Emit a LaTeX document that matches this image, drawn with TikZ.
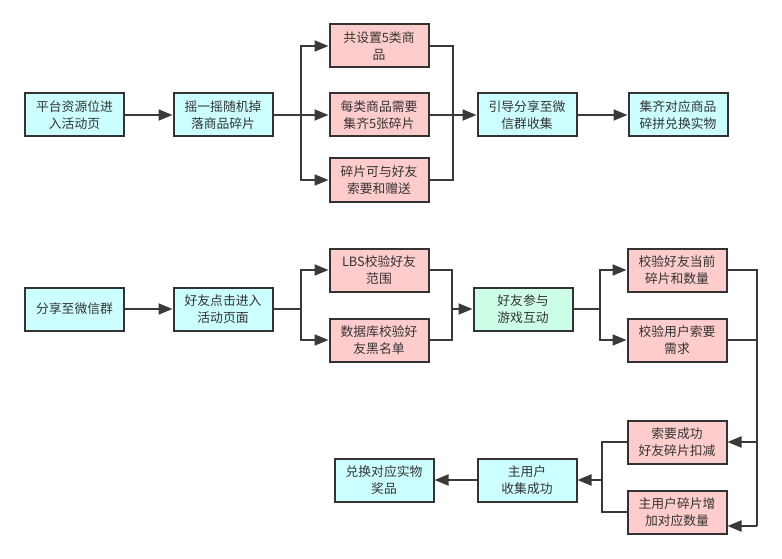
\documentclass[tikz,border=0pt]{standalone}
\usepackage{fontspec}
\setmainfont{Noto Sans CJK SC}
\usetikzlibrary{arrows.meta}
\definecolor{cyanbox}{HTML}{CCFFFF}
\definecolor{pinkbox}{HTML}{FFCCCC}
\definecolor{greenbox}{HTML}{CCFFE6}
\definecolor{edgec}{HTML}{333333}
\definecolor{linec}{HTML}{3A3A3A}
\tikzset{
  box/.style={draw=edgec, line width=2pt, minimum width=99pt, minimum height=43pt,
    inner sep=2pt, align=center, text=edgec, font=\fontsize{12.8}{16.5}\selectfont},
  cbox/.style={box, fill=cyanbox},
  pbox/.style={box, fill=pinkbox},
  gbox/.style={box, fill=greenbox},
  conn/.style={draw=linec, line width=2pt},
  arr/.style={conn, -{Triangle[length=14pt,width=11pt]}},
}
\begin{document}
\begin{tikzpicture}[x=1pt,y=-1pt]
\useasboundingbox (0,0) rectangle (782,559);
% top row
\node[cbox] (a1) at (74.5,115) {平台资源位进\\入活动页};
\node[cbox] (a2) at (223,115) {摇一摇随机掉\\落商品碎片};
\node[pbox] (b1) at (379,46) {共设置5类商\\品};
\node[pbox] (b2) at (379,115) {每类商品需要\\集齐5张碎片};
\node[pbox] (b3) at (379,180) {碎片可与好友\\索要和赠送};
\node[cbox] (c1) at (527,115) {引导分享至微\\信群收集};
\node[cbox] (c2) at (678,115) {集齐对应商品\\碎拼兑换实物};
\coordinate (st) at (301,115);
\coordinate (mt) at (453,115);
\draw[arr] (a1) -- (a2);
\draw[conn] (a2.east) -- (st);
\draw[arr] (st) |- (b1.west);
\draw[arr] (st) -- (b2.west);
\draw[arr] (st) |- (b3.west);
\draw[conn] (b1.east) -| (mt);
\draw[conn] (b3.east) -| (mt);
\draw[conn] (b2.east) -- (mt);
\draw[arr] (mt) -- (c1.west);
\draw[arr] (c1) -- (c2);
% bottom
\node[cbox] (d1) at (74.5,309) {分享至微信群};
\node[cbox] (d2) at (223,309) {好友点击进入\\活动页面};
\node[pbox] (e1) at (379,270) {LBS校验好友\\范围};
\node[pbox] (e2) at (379,340) {数据库校验好\\友黑名单};
\node[gbox] (f) at (523,309) {好友参与\\游戏互动};
\node[pbox] (g1) at (677,270) {校验好友当前\\碎片和数量};
\node[pbox] (g2) at (677,340) {校验用户索要\\需求};
\node[pbox] (h1) at (677,442) {索要成功\\好友碎片扣减};
\node[pbox] (h2) at (677,512) {主用户碎片增\\加对应数量};
\node[cbox] (i) at (527,480) {主用户\\收集成功};
\node[cbox] (j) at (384,480) {兑换对应实物\\奖品};
\coordinate (sb) at (301,309);
\coordinate (mb) at (452,309);
\coordinate (sf) at (600,309);
\coordinate (r1) at (757,442);
\coordinate (r2) at (757,526);
\coordinate (mh) at (602,480);
\draw[arr] (d1) -- (d2);
\draw[conn] (d2.east) -- (sb);
\draw[arr] (sb) |- (e1.west);
\draw[arr] (sb) |- (e2.west);
\draw[conn] (e1.east) -| (mb);
\draw[conn] (e2.east) -| (mb);
\draw[arr] (mb) -- (f.west);
\draw[conn] (f.east) -- (sf);
\draw[arr] (sf) |- (g1.west);
\draw[arr] (sf) |- (g2.west);
\draw[conn] (g1.east) -| (r2);
\draw[conn] (g2.east) -| (r2);
\draw[arr] (r1) -- (h1.east);
\draw[arr] (r2) -- (h2.east |- r2);
\draw[conn] (h1.west) -| (mh);
\draw[conn] (h2.west) -| (mh);
\draw[arr] (mh) -- (i.east);
\draw[arr] (i) -- (j);
\end{tikzpicture}
\end{document}
